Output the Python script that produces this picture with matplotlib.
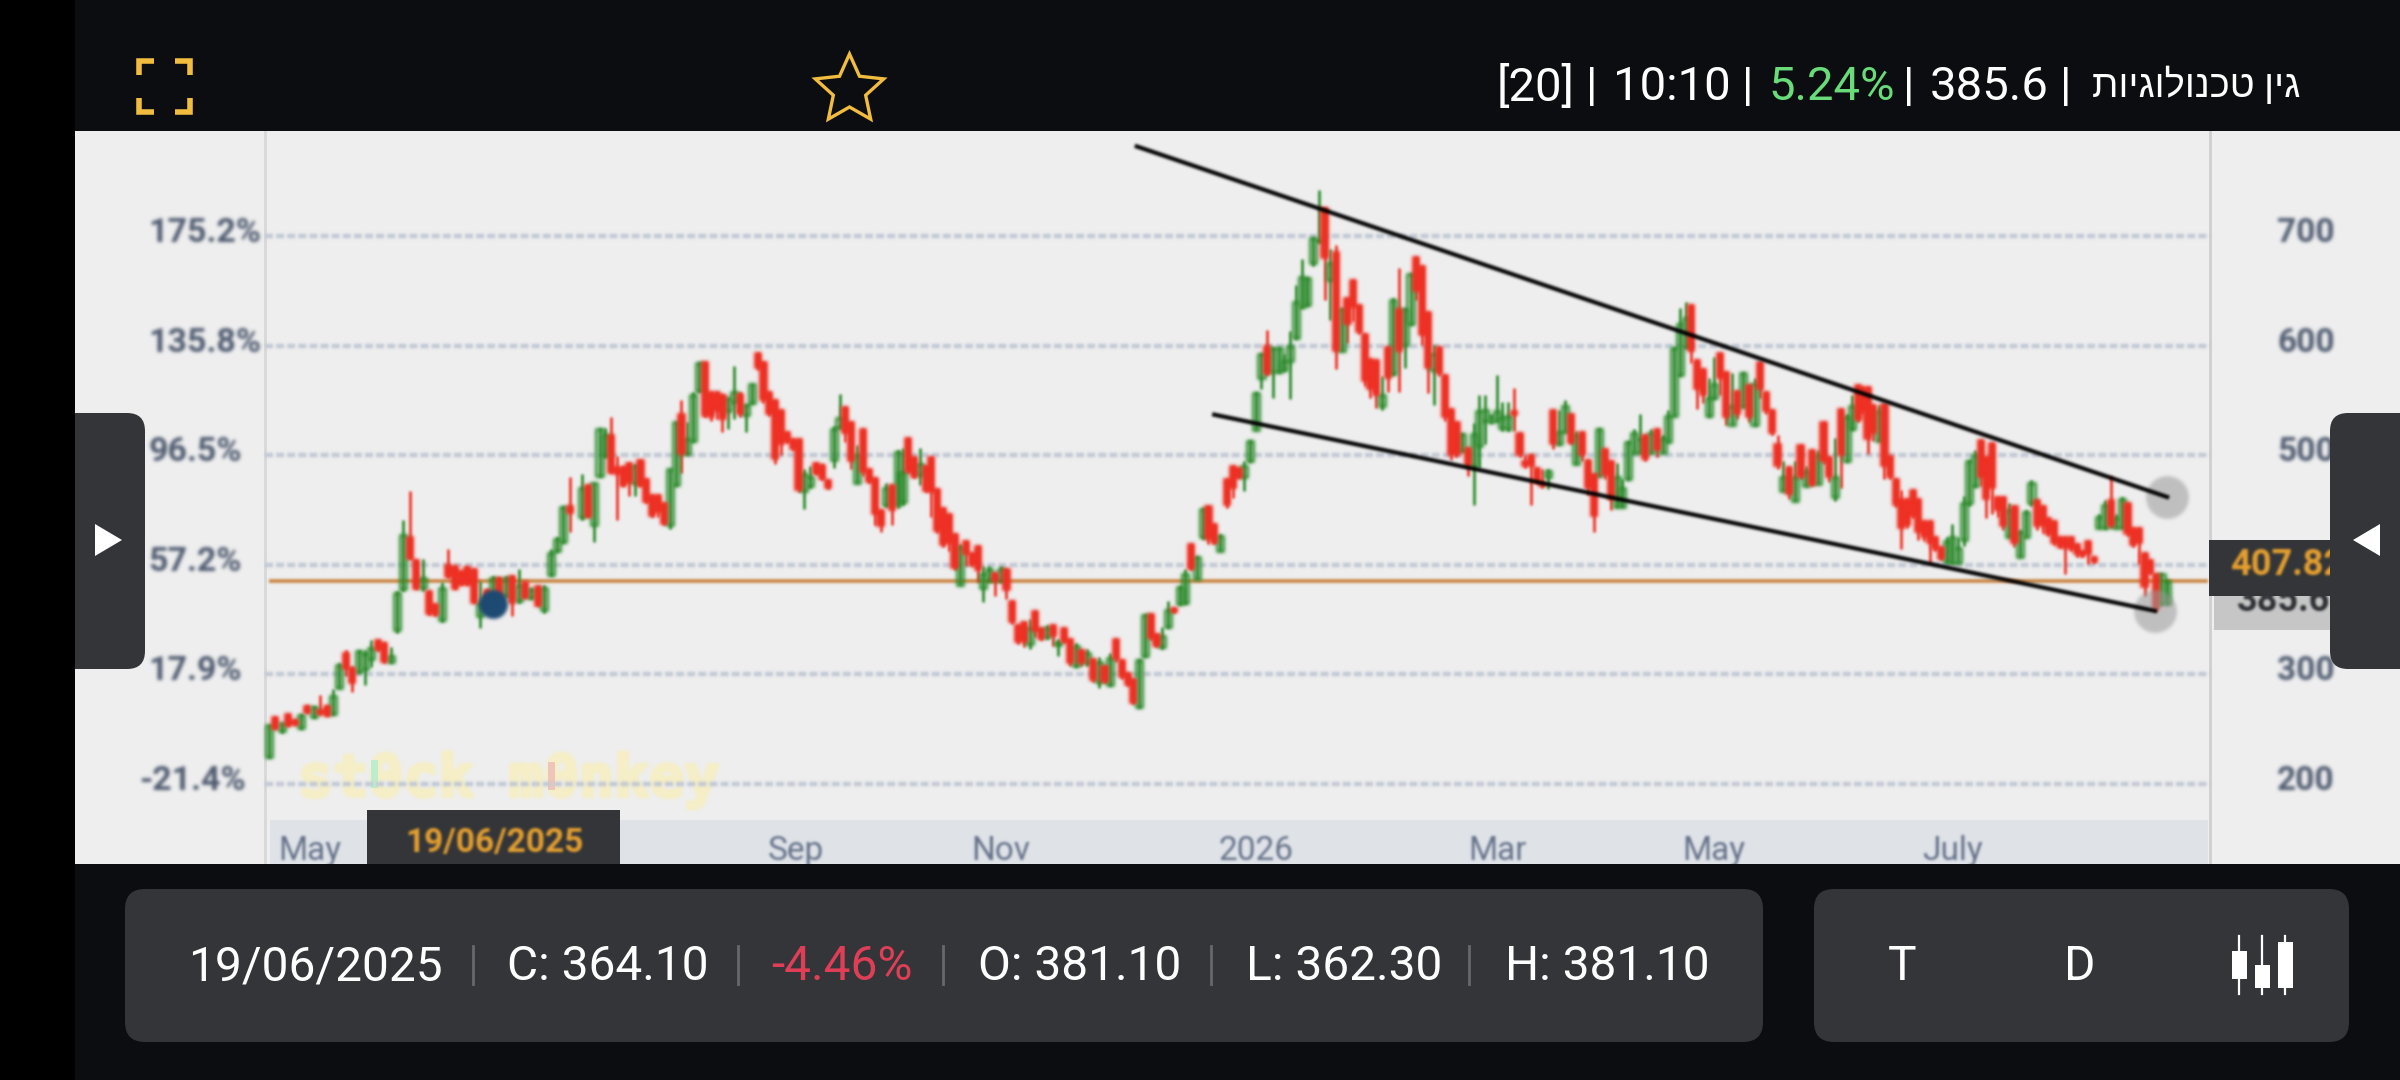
# -*- coding: utf-8 -*-
# Candle chart of the stock screen, phone screenshot layout
import numpy as np
import matplotlib
matplotlib.use('Agg')
import matplotlib.pyplot as plt
import matplotlib.patheffects as pe
from matplotlib.collections import PolyCollection
from matplotlib.patches import Rectangle, FancyBboxPatch, Polygon

# candles, stretch by stretch: (open, high, low, close)
may_jul = [(225,254,224,254),(261,261,250,250),(248,256,247,256),(264,264,253,253),(258,259,254,254),
    (251,264,250,263),(271,272,265,265),(261,271,260,270),(268,281,263,264),(271,272,262,262),
    (264,287,263,280),(288,310,288,309),(320,322,299,305),(306,308,284,292),(302,322,301,321),
    (305,322,290,319),(314,331,307,324),(331,331,321,322),(329,330,310,311),(311,325,310,317),
    (341,376,338,374),(378,441,376,427),(425,467,405,405),(404,404,378,378),(379,405,376,388),
    (376,376,354,355),(364,364,353,354),(350,384,348,379),(400,414,388,389),(399,399,378,378),
    (394,394,382,382),(398,399,382,382),(396,396,365,365),(353,385,342,365),(377,378,359,360),
    (373,390,372,388),(388,389,370,370),(372,390,371,388),(390,390,353,365),(367,396,365,382),
    (384,384,370,370),(370,379,369,378),(381,381,362,362),(359,382,356,379),(391,414,390,411),
    (413,425,412,424),(421,454,420,453),(454,480,430,447)]
jul_sep = [(444,483,441,470),(473,473,444,444),(436,475,421,475),(481,525,480,524),(499,525,498,518),
    (518,535,484,484),(489,499,441,483),(489,490,472,472),(493,493,463,475),(475,492,463,490),
    (496,496,472,472),(478,478,456,457),(464,464,444,445),(464,464,444,448),(456,456,436,437),
    (436,487,433,487),(473,530,472,530),(538,550,484,501),(501,530,500,515),(513,558,512,555),
    (559,585,558,584),(585,585,535,536),(558,558,531,535),(558,558,533,540),(555,556,521,533),
    (540,552,524,552),(549,581,533,558),(556,558,535,538),(537,547,521,546),(548,565,547,565),
    (593,593,578,580),(585,585,548,550),(558,558,536,538),(550,550,492,497),(541,541,500,510),
    (521,521,511,512),(515,515,505,506),(515,515,466,468),(467,487,451,483),(472,490,470,480),
    (493,493,483,483),(491,492,477,478),(477,477,469,470),(496,527,488,524),(526,556,524,534),
    (544,544,512,520),(530,530,487,495),(475,509,475,500),(524,524,481,485),(487,487,475,476),
    (479,479,436,446),(450,450,430,435),(455,475,453,470),(473,473,436,450),(455,505,452,503)]
oct_dec = [(457,507,455,485),(516,516,484,485),(498,498,479,480),(482,507,473,492),(490,490,466,467),
    (498,498,444,466),(469,469,429,431),(452,452,416,418),(446,446,413,420),(428,428,395,397),
    (382,419,382,416),(422,422,399,410),(411,411,399,400),(417,417,384,395),(379,399,366,392),
    (385,399,385,396),(393,393,372,385),(385,399,384,396),(396,396,369,377),(367,367,346,348),
    (345,345,328,330),(348,348,325,330),(328,351,323,342),(358,358,334,340),(342,342,331,332),
    (334,345,332,342),(345,345,326,335),(327,332,317,330),(342,342,329,330),(332,332,308,310),
    (308,329,307,326),(322,322,308,310),(310,323,308,320),(314,314,293,295),(293,316,288,311),
    (308,308,292,293),(290,320,289,315),(332,332,311,314),(313,313,296,298),(301,301,289,290),
    (296,296,273,274),(270,314,269,313),(317,355,316,354),(355,355,331,333),(337,337,325,326),
    (325,343,323,335),(343,367,342,359),(361,361,356,357),(364,381,363,380),(365,396,364,392),
    (419,419,395,396),(387,408,387,407),(425,452,424,451),(454,454,419,424),(437,437,419,420),
    (413,428,413,426)]
jan_mar = [(478,478,452,455),(490,490,461,470),(488,488,479,479),(480,495,467,490),(495,514,494,513),
    (523,558,523,557),(570,593,560,592),(600,614,573,574),(576,599,552,598),(576,599,575,598),
    (578,592,577,586),(586,613,551,600),(607,655,606,640),(635,679,634,663),(637,663,636,662),
    (675,699,673,698),(695,742,694,696),(726,726,642,680),(660,688,623,675),(685,692,579,595),
    (595,634,595,633),(643,643,602,620),(660,660,622,635),(637,637,611,612),(611,611,563,568),
    (588,588,552,560),(587,587,543,555),(545,572,541,555),(599,599,558,570),(574,643,573,642),
    (633,671,558,595),(601,634,580,633),(620,666,619,665),(681,681,642,650),(673,673,601,610),
    (631,631,557,580),(578,601,546,592),(599,599,572,575),(573,573,531,535),(542,542,496,500),
    (530,530,498,500),(504,520,503,519),(507,507,481,490),(490,529,455,519),(508,555,488,540),
    (531,555,510,541),(530,537,529,536),(531,573,531,540),(525,549,522,535),(524,549,522,536),
    (540,561,522,537),(520,520,498,500),(495,500,488,490),(500,501,455,490),(488,488,475,476)]
mar_may = [(475,487,470,472),(480,487,469,486),(541,541,506,510),(510,541,509,521),(521,550,521,545),
    (538,538,510,511),(492,522,492,518),(521,521,495,500),(496,496,464,470),(483,483,430,445),
    (481,525,481,524),(506,506,478,482),(495,495,450,460),(453,493,453,480),(453,478,453,470),
    (478,513,477,512),(502,524,502,520),(502,538,502,515),(518,518,495,497),(502,524,502,520),
    (524,524,498,505),(502,518,502,516),(512,541,512,536),(536,599,536,598),(573,634,572,620),
    (599,640,598,625),(637,637,584,595),(587,587,542,560),(579,579,548,555),(536,570,535,552),
    (552,590,551,565),(593,593,555,570),(576,576,528,535),(528,575,528,545),(559,559,533,538),
    (544,576,544,575),(564,564,530,535),(528,570,527,565),(585,585,552,560),(558,558,538,540),
    (541,541,518,520),(510,518,487,490),(467,495,467,480),(489,489,460,465),(458,495,458,480),
    (509,509,478,480),(472,490,472,486),(505,505,472,473),(474,505,474,500),(530,530,492,495),
    (498,498,476,480),(462,516,458,480),(542,542,470,500),(495,538,494,535),(524,555,523,545),
    (564,564,530,532)]
jun_aug = [(562,562,538,540),(562,562,501,515),(546,546,513,520),(513,546,513,540),(547,547,478,490),
    (499,499,478,480),(478,478,453,455),(460,468,414,434),(460,460,434,436),(468,468,443,445),
    (460,460,423,430),(440,440,422,425),(440,440,401,420),(425,425,413,414),(416,416,404,405),
    (403,425,402,422),(402,437,401,425),(402,425,402,415),(423,463,417,456),(456,496,454,495),
    (472,505,471,500),(514,514,472,480),(498,498,443,460),(511,511,446,470),(462,462,444,450),
    (462,462,432,435),(425,456,425,450),(454,454,416,420),(407,432,407,430),(425,450,425,448),
    (456,477,454,475),(459,459,432,435),(454,454,429,435),(443,443,426,428),(440,440,418,420),
    (425,425,415,416),(425,425,392,415),(425,425,413,414),(419,419,407,410),(413,413,407,408),
    (422,422,401,410),(407,407,402,403),(434,446,434,444),(434,459,433,455),(459,481,434,435),
    (434,446,434,443),(434,462,434,460),(456,456,426,428),(434,434,416,418),(434,434,401,420),
    (411,411,372,380),(404,404,392,393),(392,392,357,360),(364,393,363,392),(364,386,364,385.6)]
stretches = [may_jul, jul_sep, oct_dec, jan_mar, mar_may, jun_aug]
# first and last session of every stretch on the time axis
stretch_days = [(0, 47), (48.9, 98.3), (99, 148.6), (149.7, 198.1), (198.9, 248.3), (248.9, 296.6)]

price_ticks = [700, 600, 500, 400, 300, 200]
pct_labels = ['175.2%', '135.8%', '96.5%', '57.2%', '17.9%', '-21.4%']
date_days = [6.4, 82.3, 114.4, 154.2, 192, 225.8, 263]
date_labels = ['May', 'Sep', 'Nov', '2026', 'Mar', 'May', 'July']
last_price = 385
selected_day = 35
selected_price = 364.1
upper_trend_days = [135.6, 296.6]
upper_trend_prices = [781.7, 461.9]
lower_trend_days = [147.7, 294.7]
lower_trend_prices = [537, 358]

title_he = 'גין טכנולוגיות'
info_date = '19/06/2025'

FONT = ['Roboto', 'Liberation Sans', 'DejaVu Sans']
plt.rcParams['font.family'] = FONT
PANEL = '#333538'
DARK = '#0b0d10'
GREEN = '#2a8a2a'
RED = '#ee3124'
GOLD = '#f2bd3f'
AMBER = '#e6a030'
AXISTXT = '#4f5b70'


def blur(img, dpi):
    # the screenshot is soft, so soften the chart marks the same way
    pad = 6
    a = np.pad(img, ((pad, pad), (pad, pad), (0, 0)))
    a[..., :3] *= a[..., 3:]
    weights = np.array([0.02, 0.09, 0.23, 0.32, 0.23, 0.09, 0.02])
    for axis in (0, 1):
        a = sum(w * np.roll(a, s, axis) for s, w in zip(range(-3, 4), weights))
    alpha = a[..., 3:]
    a[..., :3] = np.divide(a[..., :3], alpha, out=np.zeros_like(a[..., :3]), where=alpha > 0)
    return a, -pad, -pad


fig = plt.figure(figsize=(24, 10.8), dpi=100, facecolor=DARK)

# background layer, in screen pixels
bg = fig.add_axes([0, 0, 1, 1], zorder=0)
bg.set_xlim(0, 2400)
bg.set_ylim(1080, 0)
bg.axis('off')
bg.add_patch(Rectangle((75, 131), 2325, 733, fc='#eeeeee', ec='none'))
bg.add_patch(Rectangle((270, 820), 1938, 44, fc='#dfe3e8', ec='none'))
bg.plot([265, 265], [131, 864], color='#d8d8d8', lw=2)
bg.plot([2210, 2210], [131, 864], color='#cfcfcf', lw=2)
mark = bg.text(298, 780, 'st0ck m0nkey', family='DejaVu Sans Mono', weight='bold', fontsize=42,
               color='#f6eec6', va='center', ha='left',
               path_effects=[pe.withStroke(linewidth=2.5, foreground='#f6eec6')])
mark.set_agg_filter(blur)
bg.add_patch(Rectangle((371, 760), 7, 28, fc='#bfeccb', ec='none', zorder=4))
bg.add_patch(Rectangle((548, 762), 7, 28, fc='#eec5b8', ec='none', zorder=4))

# chart layer
ax = fig.add_axes([265 / 2400, 1 - 820 / 1080, 1945 / 2400, 689 / 1080], zorder=1)
ax.patch.set_alpha(0)
ax.set_xlim(-0.625, 303.3)
ax.set_ylim(167.2, 795.8)
for s in ax.spines.values():
    s.set_visible(False)

ax.set_yticks(price_ticks)
ax.set_yticklabels([])
ax.yaxis.grid(True, color='#c2c9d5', lw=3.2, linestyle=(0, (1.8, 0.7)))
ax.set_axisbelow(True)
ax.tick_params(axis='both', length=0)
for l in ax.get_ygridlines():
    l.set_agg_filter(blur)
ax.set_xticks(date_days)
ax.set_xticklabels(date_labels, fontsize=24, color='#66728a')
ax.tick_params(axis='x', pad=11)
for t in ax.get_xticklabels():
    t.set_agg_filter(blur)

for p, lab in zip(price_ticks, pct_labels):
    left = (139 if lab.startswith('-') else 148)
    t = ax.annotate(lab, xy=((left - 265) / 1945, p), xycoords=ax.get_yaxis_transform(),
                    xytext=(0, 3), textcoords='offset pixels', ha='left', va='center',
                    fontsize=24.5, weight='bold', color=AXISTXT, annotation_clip=False)
    t.set_agg_filter(blur)
    t = ax.annotate(str(p), xy=((2277 - 265) / 1945, p), xycoords=ax.get_yaxis_transform(),
                    xytext=(0, 3), textcoords='offset pixels', ha='left', va='center',
                    fontsize=24, weight='bold', color=AXISTXT, annotation_clip=False)
    t.set_agg_filter(blur)

ax.hlines(last_price, 0, 303, color='#c9833f', lw=2.6, zorder=2).set_agg_filter(blur)

# one x per candle, evenly inside its stretch
days = np.concatenate([np.linspace(a, b, len(c)) for c, (a, b) in zip(stretches, stretch_days)])
ohlc = np.array(sum(stretches, []), dtype=float)
opens, highs, lows, closes = ohlc.T
up = closes >= opens
half = 0.48

red_wicks = ax.vlines(days[~up], lows[~up], highs[~up], color=RED, lw=2, zorder=3)
green_wicks = ax.vlines(days[up], lows[up], highs[up], color=GREEN, lw=2, zorder=3)


def bodies(x, o, c):
    return [[(d - half, a), (d + half, a), (d + half, b), (d - half, b)] for d, a, b in zip(x, o, c)]


green_box = PolyCollection(bodies(days[up], opens[up], closes[up]), facecolors=(0.16, 0.54, 0.16, 0.15),
                           edgecolors=GREEN, linewidths=2, zorder=3)
red_box = PolyCollection(bodies(days[~up], opens[~up], closes[~up]), facecolors=RED,
                         edgecolors=RED, linewidths=1.4, zorder=4)
ax.add_collection(green_box)
ax.add_collection(red_box)
for art in (red_wicks, green_wicks, green_box, red_box):
    art.set_agg_filter(blur)

ax.scatter([selected_day], [selected_price], s=430, color='#1d4a73', zorder=5, linewidths=0).set_agg_filter(blur)
ax.scatter([upper_trend_days[1], lower_trend_days[1]], [upper_trend_prices[1], lower_trend_prices[1]],
           s=950, color='#9a9a9a', alpha=0.55, zorder=5, linewidths=0).set_agg_filter(blur)
ax.plot(upper_trend_days, upper_trend_prices, color='black', lw=3, zorder=6, clip_on=False)[0].set_agg_filter(blur)
ax.plot(lower_trend_days, lower_trend_prices, color='black', lw=3, zorder=6, clip_on=False)[0].set_agg_filter(blur)

# screen furniture on top
ui = fig.add_axes([0, 0, 1, 1], zorder=2)
ui.set_xlim(0, 2400)
ui.set_ylim(1080, 0)
ui.axis('off')
ui.patch.set_alpha(0)

# price tags beside the axis, the dark tag and the handle sit over the grey one
ui.add_patch(Rectangle((2214, 596), 120, 34, fc='#c6c6c6', ec='none', zorder=1))
t = ui.text(2237, 601, '385.6', fontsize=26, weight='bold', color='#2d2f33', ha='left', va='center', zorder=2)
t.set_agg_filter(blur)
ui.add_patch(Rectangle((2209, 540), 125, 56, fc=PANEL, ec='none', zorder=3))
t = ui.text(2230, 565, '407.82', fontsize=26, weight='bold', color=AMBER, ha='left', va='center', zorder=4)
t.set_agg_filter(blur)

# side handles
ui.add_patch(FancyBboxPatch((40, 413), 105, 256, boxstyle='round,pad=0,rounding_size=18', fc=PANEL, ec='none', zorder=5))
ui.add_patch(FancyBboxPatch((2330, 413), 120, 256, boxstyle='round,pad=0,rounding_size=18', fc=PANEL, ec='none', zorder=5))
ui.add_patch(Polygon([(95, 524), (95, 556), (122, 540)], fc='white', ec='none', zorder=6))
ui.add_patch(Polygon([(2380, 524), (2380, 556), (2353, 540)], fc='white', ec='none', zorder=6))

# top bar and bottom bar
ui.add_patch(Rectangle((0, 0), 2400, 131, fc=DARK, ec='none', zorder=1))
ui.add_patch(Rectangle((0, 864), 2400, 216, fc=DARK, ec='none', zorder=1))
ui.add_patch(Rectangle((0, 0), 75, 1080, fc='black', ec='none', zorder=7))

# date tag
ui.add_patch(Rectangle((367, 810), 253, 54, fc=PANEL, ec='none', zorder=2))
t = ui.text(494, 843, info_date, fontsize=24, weight='bold', color=AMBER, ha='center', va='center', zorder=3)
t.set_agg_filter(blur)

# fullscreen corners
for cx, sx in ((139, 1), (190, -1)):
    for cy, sy in ((61, 1), (112, -1)):
        ui.plot([cx + sx * 15, cx, cx], [cy, cy, cy + sy * 14], color=GOLD, lw=4,
                solid_joinstyle='miter', solid_capstyle='butt', zorder=3)

# star outline
ang = np.pi / 2 + np.arange(10) * np.pi / 5
rad = np.where(np.arange(10) % 2 == 0, 36, 17)
ui.add_patch(Polygon(np.c_[849.5 + rad * np.cos(ang), 90 - rad * np.sin(ang)], fc='none', ec=GOLD, lw=2.4,
                     joinstyle='miter', zorder=3))

# header, pieces placed one by one because of the right to left title
top = dict(fontsize=34, va='center', color='white', zorder=3)
ui.text(1497, 87, '[20]', ha='left', **top)
ui.text(1592, 87, '|', ha='center', **top)
ui.text(1613, 87, '10:10', ha='left', **top)
ui.text(1748, 87, '|', ha='center', **top)
ui.text(1768, 87, '5.24%', ha='left', fontsize=34, va='center', color='#69dc7a', zorder=3)
ui.text(1909, 87, '|', ha='center', **top)
ui.text(1930, 87, '385.6', ha='left', **top)
ui.text(2066, 87, '|', ha='center', **top)
ui.text(2300, 86, title_he[::-1], ha='right', fontsize=27.5, va='center', color='white', zorder=3)

# info boxes
ui.add_patch(FancyBboxPatch((125, 889), 1638, 153, boxstyle='round,pad=0,rounding_size=20', fc=PANEL, ec='none', zorder=2))
ui.add_patch(FancyBboxPatch((1814, 889), 535, 153, boxstyle='round,pad=0,rounding_size=20', fc=PANEL, ec='none', zorder=2))
low = dict(fontsize=34.5, va='center', color='white', ha='left', zorder=3)
ui.text(188, 967, info_date, **low)
ui.text(507, 967, 'C: 364.10', **low)
ui.text(771, 967, '-4.46%', fontsize=34.5, va='center', ha='left', color='#e03e57', zorder=3)
ui.text(978, 967, 'O: 381.10', **low)
ui.text(1246, 967, 'L: 362.30', **low)
ui.text(1505, 967, 'H: 381.10', **low)
for sx in (473, 738, 943, 1211, 1469):
    ui.plot([sx, sx], [946, 984], color='#66686b', lw=2, zorder=3)
ui.text(1902, 967, 'T', fontsize=34.5, va='center', ha='center', color='white', zorder=3)
ui.text(2080, 967, 'D', fontsize=34.5, va='center', ha='center', color='white', zorder=3)

# small candle icon
for cx, top_b, bot_b in ((2239, 951, 979), (2262, 965, 988), (2285, 942, 988)):
    ui.plot([cx, cx], [936, 994], color='white', lw=1.6, zorder=3)
    ui.add_patch(Rectangle((cx - 7.5, top_b), 15, bot_b - top_b, fc='white', ec='none', zorder=3))

fig.savefig('out.png', dpi=100, facecolor=fig.get_facecolor())
